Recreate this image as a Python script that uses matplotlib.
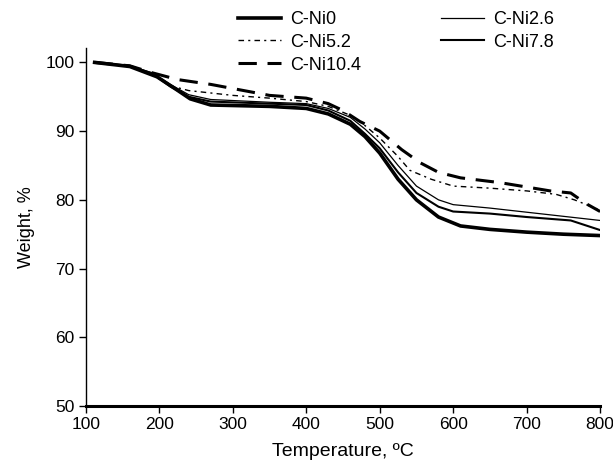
import matplotlib
matplotlib.use("Agg")
import matplotlib.pyplot as plt

plt.rcParams['font.family'] = ['Liberation Sans', 'DejaVu Sans']

# TGA curves (temperature in C, weight in %)
t_ni0 = [112, 160, 197, 224, 242, 270, 350, 400, 430, 460, 480, 500, 525, 550, 580, 610, 650, 700, 750, 800]
w_ni0 = [100, 99.4, 97.9, 96.0, 94.7, 93.8, 93.6, 93.3, 92.5, 91.0, 89.2, 86.8, 83.0, 80.0, 77.5, 76.2, 75.7, 75.3, 75.0, 74.8]

t_ni26 = [112, 160, 190, 215, 240, 270, 350, 400, 430, 460, 480, 500, 525, 550, 580, 600, 650, 700, 750, 800]
w_ni26 = [100, 99.5, 98.5, 96.8, 95.3, 94.6, 94.2, 94.0, 93.3, 92.0, 90.3, 88.3, 85.0, 82.0, 80.0, 79.3, 78.8, 78.2, 77.6, 77.0]

t_ni52 = [112, 160, 190, 215, 240, 300, 350, 400, 430, 460, 480, 500, 525, 541, 570, 600, 650, 700, 740, 765, 800]
w_ni52 = [100, 99.5, 98.3, 96.6, 95.9, 95.2, 94.8, 94.3, 93.6, 92.3, 90.8, 89.0, 86.3, 84.3, 83.0, 82.0, 81.7, 81.3, 80.8, 80.0, 78.5]

t_ni78 = [112, 160, 190, 215, 240, 270, 350, 400, 430, 460, 480, 500, 525, 550, 580, 600, 650, 700, 760, 800]
w_ni78 = [100, 99.5, 98.4, 96.5, 95.0, 94.3, 94.0, 93.8, 93.0, 91.5, 89.6, 87.5, 84.0, 81.0, 79.0, 78.3, 78.0, 77.5, 77.0, 75.6]

t_ni104 = [112, 160, 190, 225, 270, 310, 350, 400, 430, 450, 473, 500, 530, 555, 580, 610, 664, 732, 760, 780, 800]
w_ni104 = [100, 99.5, 98.5, 97.5, 96.8, 96.0, 95.2, 94.8, 94.0, 93.0, 91.4, 90.0, 87.3, 85.4, 84.0, 83.2, 82.5, 81.3, 81.0, 79.5, 78.3]

fig = plt.figure(figsize=(6.13, 4.68), dpi=100)
ax = fig.add_axes([0.140, 0.1325, 0.839, 0.765])

l0, = ax.plot(t_ni0, w_ni0, color='black', lw=2.6, label='C-Ni0')
l26, = ax.plot(t_ni26, w_ni26, color='black', lw=0.9, label='C-Ni2.6')
l52, = ax.plot(t_ni52, w_ni52, color='black', lw=1.0, dashes=(4, 3, 1.5, 3), label='C-Ni5.2')
l78, = ax.plot(t_ni78, w_ni78, color='black', lw=1.5, label='C-Ni7.8')
l104, = ax.plot(t_ni104, w_ni104, color='black', lw=2.2, dashes=(6, 3.5), label='C-Ni10.4')

ax.set_xlim(100, 800)
ax.set_ylim(50, 102.1)
ax.set_xticks(range(100, 801, 100))
ax.set_yticks(range(50, 101, 10))
ax.tick_params(labelsize=12.5, direction='out', length=5, width=1, pad=3)
ax.spines['top'].set_visible(False)
ax.spines['right'].set_visible(False)
ax.spines['bottom'].set_linewidth(2.2)
ax.spines['left'].set_linewidth(1.0)
ax.set_xlabel('Temperature, ºC', fontsize=14, labelpad=8)
ax.set_ylabel('Weight, %', fontsize=13, labelpad=8)

fig.legend(handles=[l0, l52, l104, l26, l78], ncol=2, frameon=False,
           loc='upper left', bbox_to_anchor=(238 / 613, 1 - 11 / 468),
           fontsize=13, handlelength=2.4, handletextpad=0.5,
           columnspacing=4.4, labelspacing=0.32, borderpad=0, borderaxespad=0)

fig.savefig('out.png', dpi=100)
